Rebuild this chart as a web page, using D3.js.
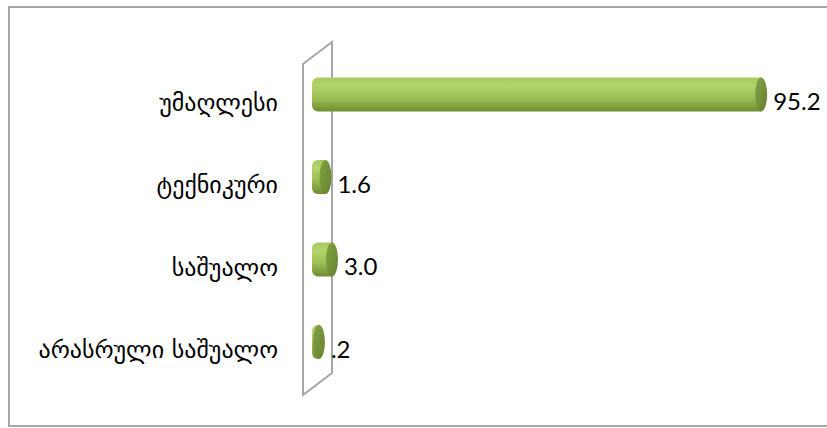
<!DOCTYPE html>
<html><head><meta charset="utf-8">
<script src="https://cdn.jsdelivr.net/npm/d3@7"></script>
<style>body{margin:0;background:#fff}svg{display:block}</style>
</head><body>
<svg id="c" width="827" height="428"></svg>
<script>
const categories = ["უმაღლესი", "ტექნიკური", "საშუალო", "არასრული საშუალო"];
const values = [95.2, 1.6, 3.0, 0.2];
const valueLabels = ["95.2", "1.6", "3.0", ".2"];

const svg = d3.select("#c");
const defs = svg.append("defs");
const g1 = defs.append("linearGradient").attr("id","body").attr("x1",0).attr("y1",0).attr("x2",0).attr("y2",1);
g1.append("stop").attr("offset","0%").attr("stop-color","#a9c862");
g1.append("stop").attr("offset","25%").attr("stop-color","#b3d46a");
g1.append("stop").attr("offset","60%").attr("stop-color","#9dbe55");
g1.append("stop").attr("offset","100%").attr("stop-color","#6f8c33");
const g2 = defs.append("linearGradient").attr("id","cap").attr("x1",0).attr("y1",0).attr("x2",1).attr("y2",1);
g2.append("stop").attr("offset","0%").attr("stop-color","#83a244");
g2.append("stop").attr("offset","100%").attr("stop-color","#67822f");

// outer frame
svg.append("rect").attr("x",9).attr("y",7).attr("width",830).attr("height",419)
  .attr("fill","none").attr("stroke","#a6a6a6").attr("stroke-width",2);

const x = d3.scaleLinear().domain([0,100]).range([318, 783.5]);
const y = d3.scalePoint().domain(categories).range([94.5, 342]);

// back wall
const wall = d3.path();
wall.moveTo(303,64); wall.lineTo(332,42); wall.lineTo(332,373); wall.lineTo(303,395); wall.closePath();
svg.append("path").attr("d",wall.toString()).attr("fill","none").attr("stroke","#a6a6a6").attr("stroke-width",2);

const rx = 6, ry = 17;
const bars = svg.append("g").selectAll("g").data(categories).join("g");
bars.append("path").attr("d",(d,i)=>{
  const cy = y(d), x0 = x(0), x1 = x(values[i]);
  const p = d3.path();
  p.moveTo(x1, cy-ry); p.lineTo(x0, cy-ry);
  p.arcTo(x0-rx, cy-ry, x0-rx, cy, rx);
  p.lineTo(x0-rx, cy+ry-rx);
  p.arcTo(x0-rx, cy+ry, x0, cy+ry, rx);
  p.lineTo(x1, cy+ry); p.closePath();
  return p.toString();
}).attr("fill","url(#body)");
bars.append("ellipse").attr("cx",(d,i)=>x(values[i])).attr("cy",d=>y(d))
  .attr("rx",rx).attr("ry",ry).attr("fill","url(#cap)");

bars.append("text").attr("x",(d,i)=>x(values[i])+rx+6).attr("y",d=>y(d)+6)
  .attr("dominant-baseline","central")
  .attr("font-family","Lato, 'Open Sans', sans-serif").attr("font-size",24).attr("fill","#000")
  .text((d,i)=>valueLabels[i]);

svg.append("g").selectAll("text").data(categories).join("text")
  .attr("x",278).attr("y",d=>y(d)+8).attr("text-anchor","end").attr("dominant-baseline","central")
  .attr("font-family","'DejaVu Sans', sans-serif").attr("font-size",24).attr("fill","#000")
  .text(d=>d);
</script>
</body></html>
